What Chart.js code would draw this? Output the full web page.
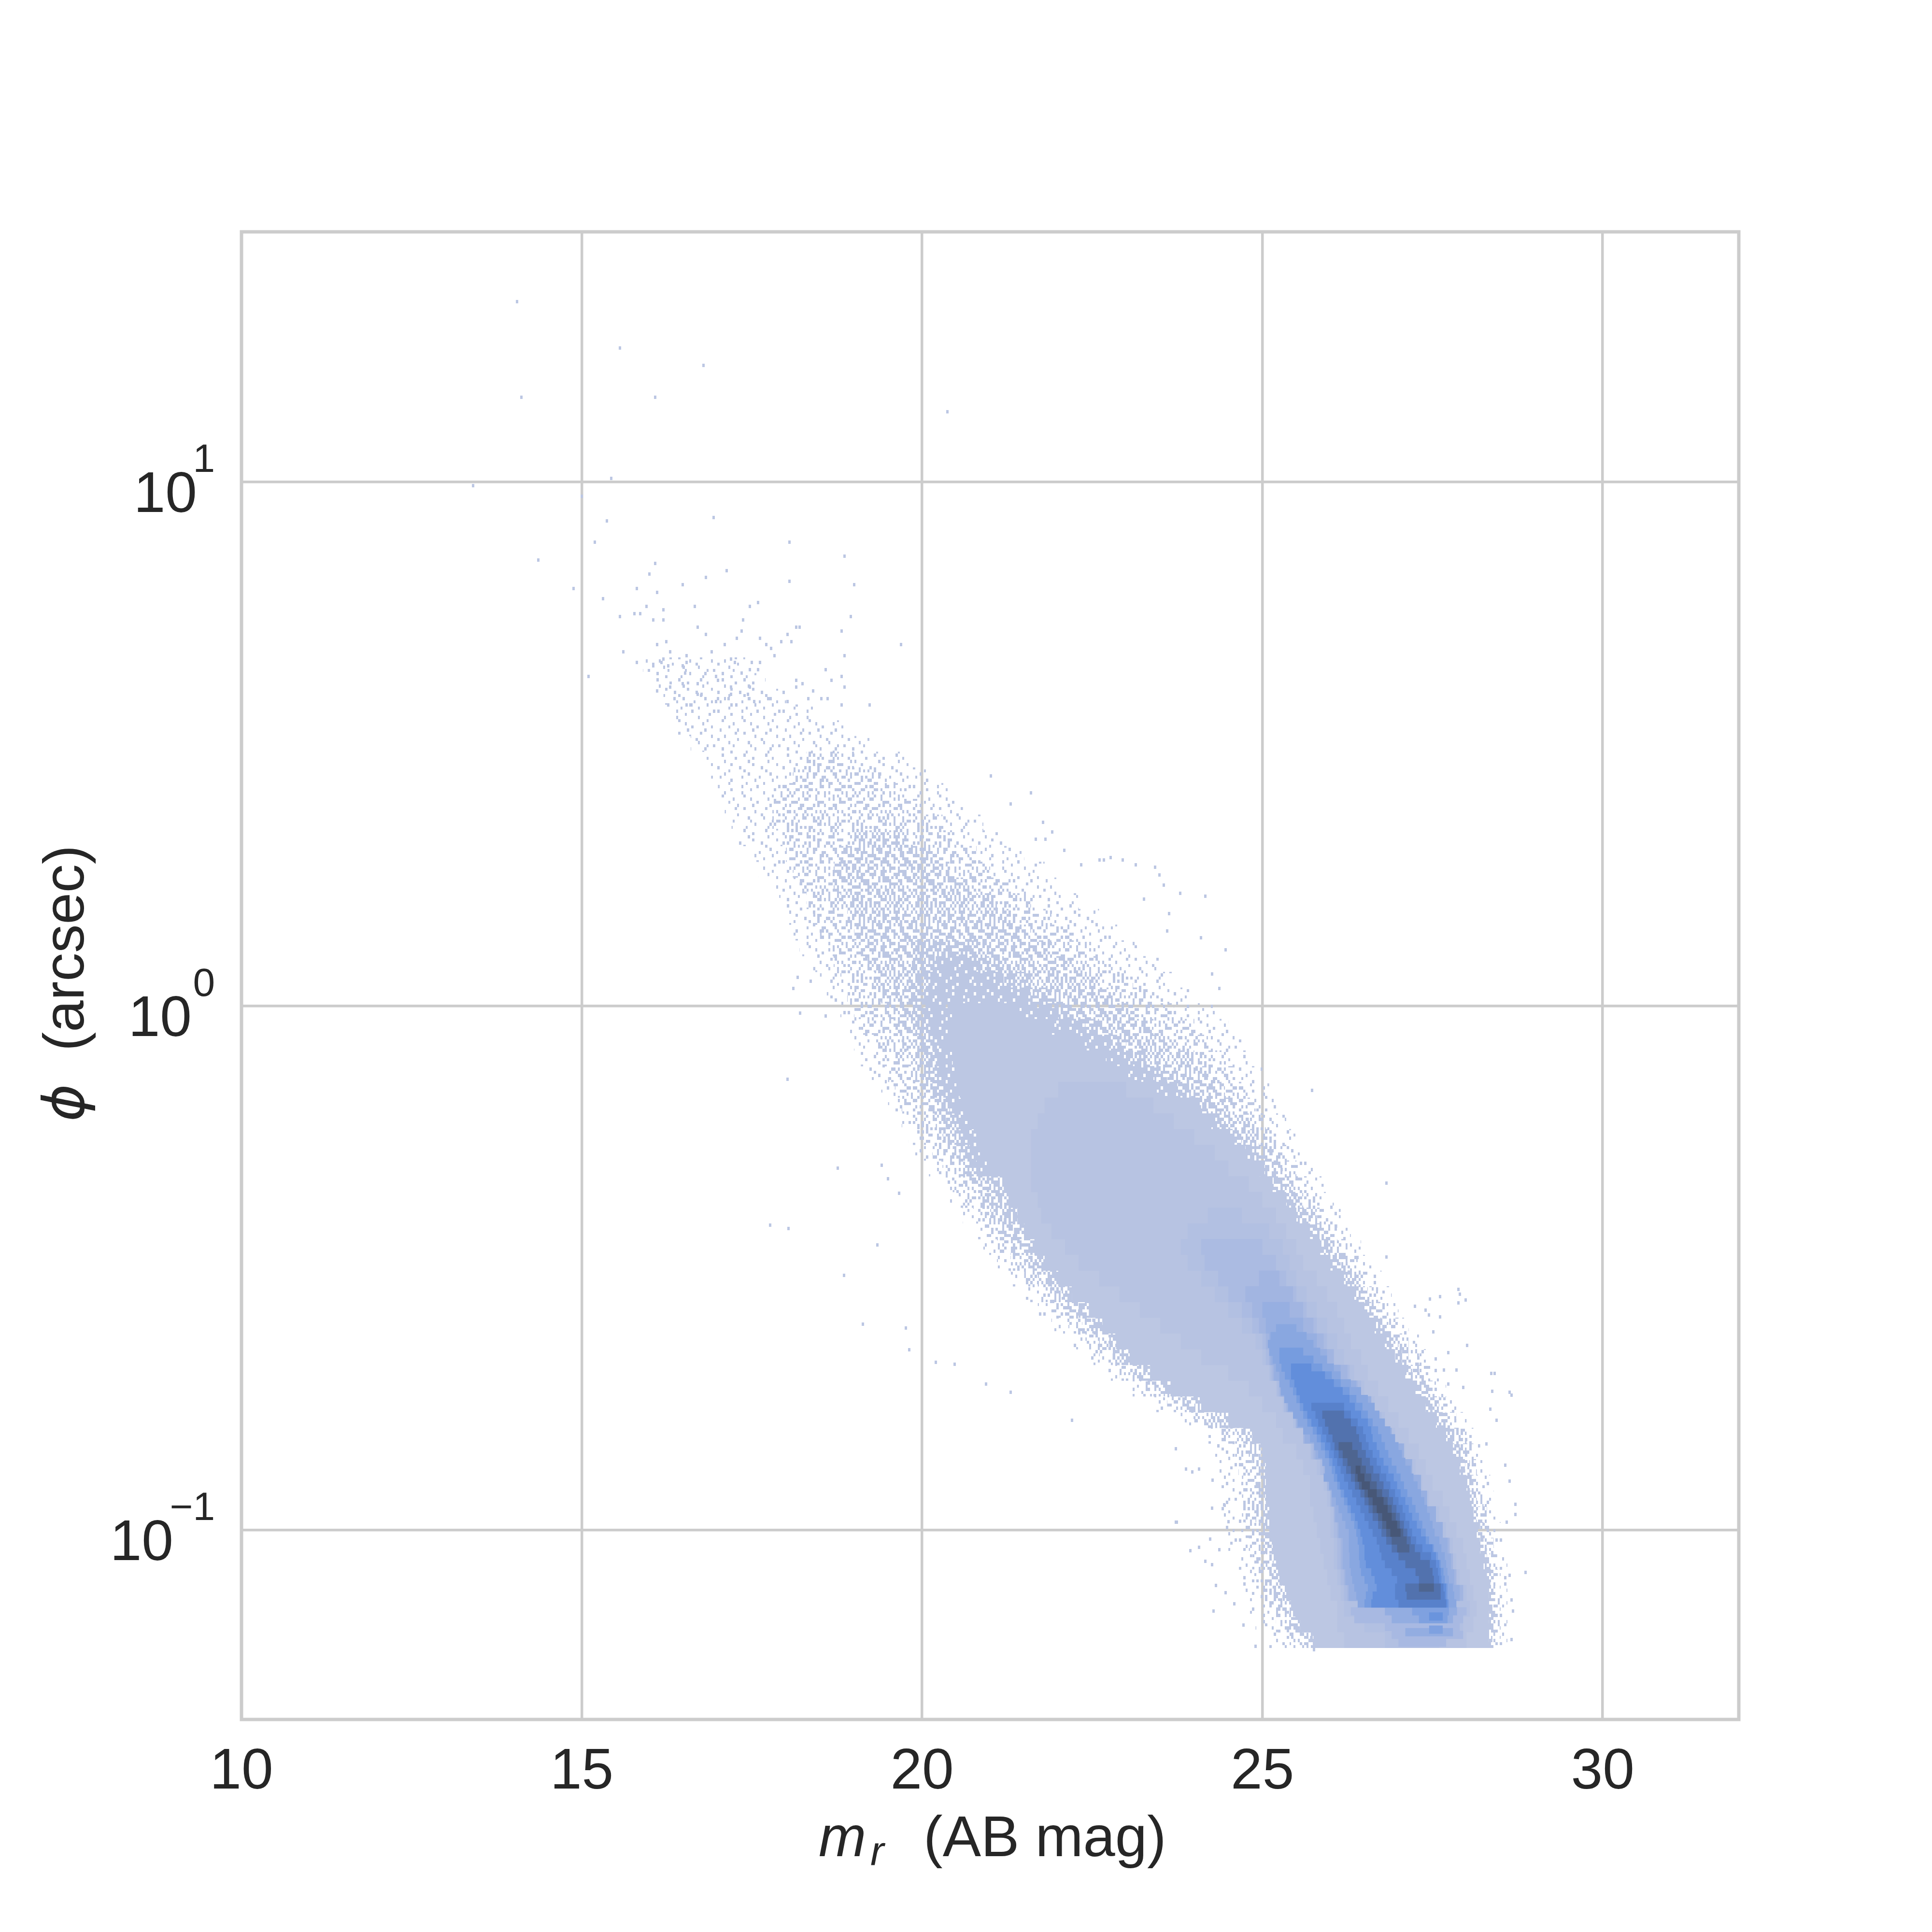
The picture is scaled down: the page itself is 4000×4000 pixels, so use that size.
<!DOCTYPE html>
<html>
<head>
<meta charset="utf-8">
<style>
    html, body { margin: 0; padding: 0; background: #ffffff; }
    canvas { display: block; }
</style>
<script src="https://cdn.jsdelivr.net/npm/chart.js@4/dist/chart.umd.min.js"></script>
</head>
<body>
<canvas id="chart" width="4000" height="4000"></canvas>
<script>
/* x axis and y axis ticks */
const xTicks = [10, 15, 20, 25, 30];
const yTicks = [0.1, 1, 10];
const yTickExponents = ["\u22121", "0", "1"];

/* coarse density bands, each row is [log10 phi, mag left, mag right] */
const bandA = [[.66,15.9,17.4],[.63,16.0,17.7],[.60,16.2,18.0],[.57,16.3,18.4],[.54,16.4,18.9],[.51,16.6,19.3],[.48,16.8,19.8],[.45,16.9,20.1],[.42,17.0,20.4],[.39,17.1,20.6],[.36,17.2,20.9],[.33,17.3,21.2],[.30,17.5,21.5],[.27,17.6,21.8],[.24,17.8,22.0],[.21,17.9,22.3],[.18,18.0,22.6],[.15,18.1,22.9],[.12,18.2,23.2],[.09,18.4,23.5],[.06,18.5,23.7],[.03,18.6,24.0],[0,18.8,24.3],[-.03,18.9,24.5],[-.06,19.0,24.7],[-.09,19.1,24.8],[-.12,19.2,25.0],[-.15,19.4,25.1],[-.18,19.5,25.2],[-.21,19.7,25.35],[-.24,19.8,25.5],[-.27,19.9,25.6],[-.30,20.1,25.75],[-.33,20.3,25.9],[-.36,20.4,26.05],[-.39,20.6,26.15],[-.42,20.8,26.3],[-.45,20.9,26.45],[-.48,21.1,26.6],[-.51,21.3,26.75],[-.54,21.5,26.9],[-.57,21.7,27.0],[-.60,21.9,27.15],[-.63,22.2,27.3],[-.66,22.4,27.45],[-.69,22.7,27.6],[-.72,23.0,27.7],[-.75,23.4,27.85],[-.78,23.8,28.0],[-.81,24.2,28.1],[-.84,24.3,28.2],[-.87,24.35,28.3],[-.90,24.4,28.35],[-.93,24.4,28.4],[-.96,24.4,28.45],[-.99,24.45,28.5],[-1.02,24.5,28.55],[-1.05,24.6,28.6],[-1.08,24.65,28.6],[-1.11,24.7,28.6],[-1.14,24.8,28.6],[-1.17,24.9,28.6],[-1.20,25.1,28.6]];
const bandB = [[.48,18.3,19.0],[.45,18.1,19.4],[.42,17.9,19.7],[.39,17.8,20.0],[.36,17.8,20.3],[.33,17.9,20.5],[.30,18.0,20.8],[.27,18.1,21.0],[.24,18.2,21.3],[.21,18.3,21.6],[.18,18.4,21.9],[.15,18.5,22.2],[.12,18.6,22.5],[.09,18.7,22.8],[.06,18.8,23.1],[.03,18.9,23.4],[0,19.0,23.7],[-.03,19.1,24.0],[-.06,19.3,24.2],[-.09,19.4,24.4],[-.12,19.5,24.6],[-.15,19.6,24.75],[-.18,19.7,24.9],[-.21,19.85,25.05],[-.24,20.0,25.2],[-.27,20.15,25.35],[-.30,20.3,25.5],[-.33,20.45,25.65],[-.36,20.6,25.8],[-.39,20.75,25.95],[-.42,20.95,26.1],[-.45,21.1,26.25],[-.48,21.3,26.4],[-.51,21.5,26.55],[-.54,21.7,26.7],[-.57,21.9,26.85],[-.60,22.15,27.0],[-.63,22.4,27.15],[-.66,22.6,27.3],[-.69,22.9,27.45],[-.72,23.2,27.55],[-.75,23.6,27.7],[-.78,24.0,27.85],[-.81,24.4,28.0],[-.84,24.6,28.1],[-.87,24.65,28.15],[-.90,24.7,28.2],[-.93,24.7,28.25],[-.96,24.7,28.3],[-.99,24.75,28.35],[-1.02,24.8,28.4],[-1.05,24.85,28.45],[-1.08,24.9,28.5],[-1.11,25.0,28.5],[-1.14,25.1,28.5],[-1.17,25.2,28.5],[-1.20,25.4,28.5]];
const bandC = [[.33,19.0,19.8],[.30,18.8,20.2],[.27,18.7,20.4],[.24,18.7,20.8],[.21,18.8,21.1],[.18,18.9,21.3],[.15,19.0,21.6],[.12,19.1,21.9],[.09,19.2,22.2],[.06,19.3,22.5],[.03,19.4,22.8],[0,19.5,23.1],[-.03,19.6,23.4],[-.06,19.7,23.7],[-.09,19.8,24.0],[-.12,19.9,24.2],[-.15,20.0,24.45],[-.18,20.1,24.6],[-.21,20.2,24.8],[-.24,20.3,24.95],[-.27,20.45,25.15],[-.30,20.55,25.3],[-.33,20.7,25.45],[-.36,20.85,25.6],[-.39,21.0,25.8],[-.42,21.15,25.95],[-.45,21.3,26.1],[-.48,21.5,26.25],[-.51,21.7,26.4],[-.54,21.9,26.55],[-.57,22.1,26.7],[-.60,22.35,26.85],[-.63,22.6,27.0],[-.66,22.8,27.15],[-.69,23.1,27.3],[-.72,23.4,27.45],[-.75,23.8,27.6],[-.78,24.2,27.7],[-.81,24.6,27.9],[-.84,24.8,28.0],[-.87,24.85,28.05],[-.90,24.9,28.1],[-.93,24.9,28.15],[-.96,24.9,28.2],[-.99,24.95,28.25],[-1.02,25.0,28.3],[-1.05,25.05,28.35],[-1.08,25.1,28.4],[-1.11,25.15,28.42],[-1.14,25.25,28.42],[-1.17,25.35,28.42],[-1.20,25.55,28.42]];
const bandD = [[.12,19.9,20.8],[.09,19.85,21.2],[.06,19.8,21.6],[.03,19.8,21.9],[0,19.85,22.2],[-.03,19.9,22.6],[-.06,19.95,23.0],[-.09,20.0,23.3],[-.12,20.05,23.6],[-.15,20.15,23.95],[-.18,20.25,24.2],[-.21,20.35,24.45],[-.24,20.45,24.7],[-.27,20.55,24.95],[-.30,20.65,25.1],[-.33,20.95,25.3],[-.36,21.05,25.5],[-.39,21.2,25.65],[-.42,21.35,25.85],[-.45,21.5,26.0],[-.48,21.65,26.15],[-.51,21.85,26.3],[-.54,22.05,26.45],[-.57,22.3,26.6],[-.60,22.5,26.75],[-.63,22.75,26.9],[-.66,22.95,27.05],[-.69,23.25,27.2],[-.72,23.55,27.35],[-.75,24.0,27.5],[-.78,24.4,27.65],[-.81,24.8,27.8],[-.84,24.95,27.9],[-.87,25.0,27.98],[-.90,25.0,28.05],[-.93,25.02,28.1],[-.96,25.05,28.15],[-.99,25.05,28.2],[-1.02,25.1,28.25],[-1.05,25.15,28.3],[-1.08,25.2,28.35],[-1.11,25.3,28.38],[-1.14,25.4,28.38],[-1.17,25.5,28.38],[-1.20,25.7,28.38]];
const bandD2 = [[.09,20.2,20.8],[.06,20.1,21.2],[.03,20.05,21.6],[0,20.05,22.0],[-.03,20.1,22.4],[-.06,20.15,22.75],[-.09,20.2,23.1],[-.12,20.25,23.4],[-.15,20.3,23.75],[-.18,20.4,24.1],[-.21,20.5,24.35],[-.24,20.6,24.6],[-.27,20.7,24.85],[-.30,20.8,25.03]];
const bandE = [[0,20.45,21.4],[-.03,20.4,21.9],[-.06,20.4,22.3],[-.09,20.45,22.7],[-.12,20.5,23.0],[-.15,20.55,23.45],[-.18,20.6,24.0],[-.21,20.7,24.25],[-.24,20.8,24.5],[-.27,20.85,24.75],[-.30,20.95,24.95],[-.33,21.2,25.15],[-.36,21.3,25.35],[-.39,21.4,25.5],[-.42,21.5,25.7],[-.45,21.65,25.85],[-.48,21.8,26.0],[-.51,22.0,26.2],[-.54,22.2,26.35],[-.57,22.45,26.5],[-.60,22.65,26.65],[-.63,22.85,26.8],[-.66,23.05,26.95],[-.69,23.35,27.1],[-.72,23.65,27.25],[-.75,24.1,27.4],[-.78,24.5,27.55],[-.81,24.85,27.7],[-.84,25.0,27.8],[-.87,25.05,27.9],[-.90,25.05,28.0],[-.93,25.05,28.05],[-.96,25.1,28.1],[-.99,25.1,28.15],[-1.02,25.15,28.2],[-1.05,25.2,28.25],[-1.08,25.25,28.3],[-1.11,25.35,28.33],[-1.14,25.45,28.33],[-1.17,25.55,28.33],[-1.20,25.75,28.33]];
const bandF = [[-.15,22.0,23.0],[-.18,21.8,23.4],[-.21,21.7,23.7],[-.24,21.6,24.0],[-.27,21.6,24.3],[-.30,21.6,24.5],[-.33,21.6,24.8],[-.36,21.7,25.0],[-.39,21.75,25.2],[-.42,21.9,25.35],[-.45,22.1,25.5],[-.48,22.3,25.6],[-.51,22.6,25.8],[-.54,22.9,25.95],[-.57,23.2,26.1],[-.60,23.5,26.2],[-.63,23.8,26.3],[-.66,24.1,26.45],[-.69,24.5,26.55],[-.72,24.8,26.7],[-.75,25.0,26.85],[-.78,25.2,27.0],[-.81,25.3,27.15],[-.84,25.5,27.3],[-.87,25.6,27.4],[-.90,25.7,27.5],[-.93,25.7,27.65],[-.96,25.75,27.75],[-.99,25.8,27.85],[-1.02,25.85,27.95],[-1.05,25.9,28.0],[-1.08,25.95,28.05],[-1.11,26.0,28.1],[-1.14,26.1,28.15],[-1.17,26.1,28.1],[-1.20,26.2,28.0]];
const bandG = [[-.39,24.2,24.7],[-.42,23.9,25.1],[-.45,23.8,25.3],[-.48,23.9,25.4],[-.51,24.1,25.5],[-.54,24.3,25.65],[-.57,24.5,25.8],[-.60,24.7,25.95],[-.63,24.9,26.1],[-.66,25.0,26.2],[-.69,25.1,26.35],[-.72,25.2,26.5],[-.75,25.3,26.65],[-.78,25.45,26.8],[-.81,25.6,26.95],[-.84,25.7,27.1],[-.87,25.8,27.25],[-.90,25.9,27.35],[-.93,25.95,27.45],[-.96,26.0,27.6],[-.99,26.0,27.7],[-1.02,26.05,27.8],[-1.05,26.05,27.85],[-1.08,26.1,27.9],[-1.11,26.15,28.0],[-1.14,26.2,28.05],[-1.17,26.5,27.95],[-1.20,26.8,27.6]];
const bandG2 = [[-.45,24.1,25.0],[-.48,24.15,25.2],[-.51,24.35,25.35],[-.54,24.5,25.5],[-.57,24.7,25.65],[-.60,24.85,25.8],[-.63,25.0,25.95],[-.66,25.05,26.05],[-.69,25.12,26.28],[-.72,25.22,26.45],[-.75,25.32,26.6],[-.78,25.48,26.75],[-.81,25.62,26.9],[-.84,25.72,27.05],[-.87,25.85,27.2],[-.90,25.95,27.3],[-.93,26.0,27.42],[-.96,26.05,27.55],[-.99,26.05,27.65],[-1.02,26.1,27.75],[-1.05,26.1,27.8],[-1.08,26.15,27.85],[-1.11,26.2,27.95]];
const bandH = [[-.51,24.95,25.25],[-.54,24.75,25.45],[-.57,24.85,25.6],[-.60,24.95,25.75],[-.63,25.05,25.9],[-.66,25.1,26.05],[-.69,25.15,26.25],[-.72,25.25,26.4],[-.75,25.35,26.55],[-.78,25.5,26.7],[-.81,25.6,26.85],[-.84,25.75,27.0],[-.87,25.9,27.15],[-.90,25.95,27.3],[-.93,26.0,27.4],[-.96,26.05,27.55],[-.99,26.1,27.65],[-1.02,26.15,27.75],[-1.05,26.15,27.8],[-1.08,26.2,27.85],[-1.11,26.25,27.95]];
const bandH2 = [[-.57,25.0,25.4],[-.60,25.05,25.6],[-.63,25.1,25.8],[-.66,25.12,25.95],[-.69,25.17,26.15],[-.72,25.27,26.38],[-.75,25.37,26.6],[-.78,25.5,26.72],[-.81,25.62,26.9],[-.84,25.78,27.08],[-.87,25.92,27.2],[-.90,25.98,27.33],[-.93,26.02,27.42],[-.96,26.07,27.55],[-.99,26.12,27.65],[-1.02,26.18,27.72],[-1.05,26.18,27.77],[-1.08,26.22,27.82],[-1.11,26.27,27.9]];

/* fine bands for the dense ridge and the stripes under it, same row layout */
const ridgeI = [[-.615,25.2,25.5],[-.63,25.12,25.65],[-.645,25.08,25.75],[-.66,25.1,25.85],[-.675,25.15,25.95],[-.69,25.2,26.05],[-.705,25.25,26.15],[-.72,25.25,26.3],[-.735,25.27,26.45],[-.75,25.32,26.55],[-.765,25.38,26.65],[-.78,25.45,26.72],[-.795,25.52,26.8],[-.81,25.6,26.88],[-.825,25.7,26.95],[-.84,25.76,27.0],[-.855,25.82,27.05],[-.87,25.88,27.1],[-.885,25.92,27.18],[-.90,25.9,27.22],[-.915,25.98,27.28],[-.93,26.02,27.33],[-.945,26.08,27.38],[-.96,26.12,27.42],[-.975,26.17,27.46],[-.99,26.22,27.5],[-1.005,26.27,27.53],[-1.02,26.27,27.6],[-1.035,26.27,27.63],[-1.05,26.28,27.68],[-1.065,26.28,27.7],[-1.08,26.3,27.72],[-1.095,26.32,27.74],[-1.11,26.35,27.8],[-1.125,26.38,27.82],[-1.14,26.4,27.85]];
const ridgeJ = [[-.66,25.25,25.6],[-.675,25.25,25.75],[-.69,25.28,25.88],[-.705,25.33,26.02],[-.72,25.4,26.15],[-.735,25.45,26.28],[-.75,25.5,26.38],[-.765,25.55,26.47],[-.78,25.6,26.55],[-.795,25.66,26.62],[-.81,25.74,26.7],[-.825,25.8,26.75],[-.84,25.86,26.8],[-.855,25.92,26.85],[-.87,25.98,26.9],[-.885,26.02,26.97],[-.90,26.05,27.03],[-.915,26.1,27.08],[-.93,26.15,27.13],[-.945,26.2,27.2],[-.96,26.25,27.25],[-.975,26.3,27.3],[-.99,26.35,27.35],[-1.005,26.38,27.4],[-1.02,26.4,27.45],[-1.035,26.42,27.52],[-1.05,26.42,27.58],[-1.065,26.43,27.62],[-1.08,26.45,27.66],[-1.095,26.5,27.68],[-1.11,26.55,27.72],[-1.125,26.52,27.72],[-1.14,26.5,27.74]];
const ridgeK = [[-.69,25.42,25.72],[-.705,25.42,25.92],[-.72,25.47,26.05],[-.735,25.5,26.18],[-.75,25.55,26.28],[-.765,25.6,26.36],[-.78,25.66,26.45],[-.795,25.72,26.55],[-.81,25.8,26.6],[-.825,25.86,26.62],[-.84,25.92,26.68],[-.855,25.98,26.72],[-.87,26.03,26.78],[-.885,26.07,26.85],[-.90,26.1,26.93],[-.915,26.14,26.98],[-.93,26.2,27.03],[-.945,26.25,27.1],[-.96,26.3,27.15],[-.975,26.36,27.2],[-.99,26.4,27.27],[-1.005,26.44,27.33],[-1.02,26.47,27.4],[-1.035,26.5,27.5],[-1.05,26.5,27.55],[-1.065,26.52,27.6],[-1.08,26.6,27.62],[-1.095,26.65,27.63],[-1.11,26.68,27.7],[-1.125,26.62,27.7],[-1.14,26.6,27.72]];
const ridgeL = [[-.765,25.72,26.2],[-.78,25.78,26.3],[-.795,25.82,26.4],[-.81,25.88,26.48],[-.825,25.94,26.52],[-.84,26.0,26.56],[-.855,26.05,26.62],[-.87,26.1,26.68],[-.885,26.15,26.74],[-.90,26.2,26.82],[-.915,26.26,26.88],[-.93,26.32,26.95],[-.945,26.38,27.0],[-.96,26.44,27.06],[-.975,26.5,27.1],[-.99,26.56,27.16],[-1.005,26.62,27.2],[-1.02,26.68,27.26],[-1.035,26.72,27.35],[-1.05,26.75,27.48],[-1.065,26.8,27.55],[-1.08,26.9,27.58],[-1.095,26.98,27.6],[-1.11,26.95,27.66],[-1.125,26.95,27.68],[-1.14,27.0,27.7]];
const ridgeM = [[-.78,25.88,26.2],[-.795,25.92,26.3],[-.81,25.97,26.38],[-.825,26.03,26.42],[-.84,26.06,26.46],[-.855,26.12,26.52],[-.87,26.18,26.58],[-.885,26.23,26.63],[-.90,26.3,26.72],[-.915,26.36,26.78],[-.93,26.44,26.86],[-.945,26.5,26.92],[-.96,26.56,26.97],[-.975,26.62,27.02],[-.99,26.7,27.08],[-1.005,26.75,27.13],[-1.02,26.82,27.18],[-1.035,26.9,27.24],[-1.05,27.0,27.32],[-1.065,27.1,27.46],[-1.08,27.25,27.5],[-1.095,27.3,27.52],[-1.11,27.1,27.62],[-1.125,27.12,27.62]];
const ridgeN = [[-.84,26.12,26.32],[-.855,26.18,26.4],[-.87,26.25,26.46],[-.885,26.3,26.52],[-.90,26.36,26.6],[-.915,26.42,26.68],[-.93,26.5,26.76],[-.945,26.56,26.84],[-.96,26.62,26.9],[-.975,26.7,26.96],[-.99,26.76,27.02],[-1.005,26.82,27.07],[-1.02,26.9,27.12],[-1.035,26.98,27.16],[-1.11,27.3,27.52]];
const ridgeO = [[-.885,26.37,26.44],[-.90,26.4,26.5],[-.915,26.46,26.58],[-.93,26.55,26.68],[-.945,26.62,26.78],[-.96,26.68,26.84],[-.975,26.76,26.9],[-.99,26.82,26.98],[-1.005,26.88,27.03]];
const stripeG = [[-1.155,26.3,28.0],[-1.17,26.35,27.95],[-1.185,26.8,27.9],[-1.20,26.9,27.95],[-1.215,27.0,27.7]];
const stripeH = [[-1.155,26.8,27.86],[-1.17,26.9,27.8],[-1.195,27.1,27.8]];
const stripeI = [[-1.155,27.2,27.74],[-1.17,27.3,27.72],[-1.19,27.45,27.65]];
const stripeJ = [[-1.165,27.45,27.65]];

/* single cells outside the main cloud, [mag, phi] */
const strayCells = [
    [14.05,22.1],[15.56,18.0],[16.79,16.7],[14.11,14.5],[16.08,14.5],[20.37,13.6],[15.43,10.15],[13.40,9.83],[15.0,9.38],[16.94,8.55],
    [15.37,8.42],[15.19,7.67],[18.05,7.67],[18.86,7.22],[14.36,7.09],[16.08,6.99],[17.13,6.77],[15.99,6.67],[16.82,6.57],[18.05,6.46],
    [16.48,6.37],[19.0,6.37],[14.88,6.26],[15.81,6.26],[16.11,6.16],[15.31,5.98],[17.59,5.89],[15.95,5.79],[16.66,5.79],[17.47,5.79],
    [16.2,5.70],[15.77,5.61],[15.86,5.61],[15.56,5.53],[18.95,5.53],[16.05,5.45],[16.2,5.45],[17.37,5.45],[16.7,5.28],[18.15,5.28],
    [18.2,5.28],[17.35,5.19],[18.82,5.19],[16.82,5.12],[18.02,5.12],[17.28,5.03],[17.62,5.03],[16.24,4.96],[17.93,4.96],[18.08,4.96],
    [16.11,4.89],[17.1,4.89],[17.71,4.89],[19.69,4.89],[17.78,4.81],[15.61,4.74],[16.3,4.74],[16.91,4.74],[16.54,4.66],[17.83,4.66],
    [18.86,4.66],[16.2,4.59],[17.19,4.59],[15.81,4.52],[16.17,4.52],[16.54,4.52],[17.25,4.52],[17.5,4.52],[17.62,4.52],[16.05,4.46],
    [16.27,4.46],[16.48,4.46],[17.47,4.38],[17.59,4.38],[18.58,4.38],[16.52,4.32],[17.35,4.32],[15.1,4.25],[16.97,4.25],[18.82,4.25],
    [18.15,4.18],[18.67,4.18],[17.0,4.18],[16.48,4.12],[16.7,4.12],[18.24,4.12],[16.3,4.06],[17.19,4.06],[17.47,4.06],[18.15,4.06],
    [18.86,4.06],[16.11,3.99],[18.4,3.99],[16.7,3.93],[16.76,3.93],[17.19,3.93],[17.44,3.93],[16.36,3.86],[17.0,3.86],[17.16,3.86],
    [17.46,3.86],[17.74,3.86],[18.33,3.86],[18.52,3.86],[18.61,3.86],[16.97,3.81],[17.53,3.81],[18.02,3.81],[16.27,3.75],[16.54,3.75],
    [16.61,3.75],[17.27,3.75],[18.82,3.75],[19.23,3.75],
    [21.01,2.75],[21.6,2.55],[21.3,2.43],[21.78,2.24],[21.91,2.15],[22.09,1.98],[21.67,2.08],[21.81,2.08],[22.77,1.92],[23.14,1.86],
    [23.42,1.84],[23.79,1.64],[24.16,1.62],[24.46,1.28],[24.37,1.08],[24.1,1.35],[23.49,1.78],[22.61,1.90],[22.67,1.90],[22.95,1.90],
    [22.34,1.86],[23.55,1.70],[23.26,1.60],[23.63,1.50],[23.6,1.39],[24.26,1.15],
    [18.02,.724],[18.76,.49],[19.41,.497],[19.5,.468],[19.66,.439],[18.21,.97],[18.58,.957],[18.11,1.08],[18.17,1.135],[18.36,1.115],
    [17.77,.382],[18.04,.376],[18.85,.306],[19.13,.247],[19.34,.35],[19.76,.243],[19.81,.221],[20.2,.209],[20.48,.207],[20.94,.19],
    [21.3,.183],[22.2,.162],[23.74,.1035],[26.82,.459],[25.73,.69],[26.82,.332],[27.9,.282],[27.45,.257],[28.36,.199],[28.63,.183],
    [27.88,.288],[27.46,.276],[27.61,.279],[27.99,.275],[27.88,.271],[27.24,.267],[27.4,.263],[27.61,.255],[27.51,.239],[28.01,.225],
    [27.73,.218],[27.55,.212],[27.85,.202],[27.67,.202],[28.41,.199],[27.73,.19],[28.38,.184],[27.95,.187],[28.66,.181],[28.35,.170],
    [28.44,.162],[28.29,.146],[28.57,.133],[28.63,.124],[28.72,.112],[28.72,.107],[28.59,.1035],[28.87,.083],[28.63,.082],[28.66,.0618],
    [28.68,.0701],[28.66,.0735],[23.73,.143],[23.73,.1035],[23.94,.0914],[24.07,.0926],[24.16,.0872],[24.28,.0701],[24.72,.0659],[24.9,.06],
    [25.76,.0591],[24.26,.11],[23.97,.129],[23.88,.1306],[24.07,.1306],[24.27,.1245],[24.44,.1117],[24.5,.1037],[24.23,.096],[24.37,.0918],
    [24.26,.0859],[24.32,.0784],[24.46,.076],[24.59,.0723]
];

const coarseBands = [bandA, bandB, bandC, bandD, bandD2, bandE, bandF, bandG, bandG2, bandH, bandH2];
const fineBands = [stripeG, stripeH, stripeI, stripeJ, ridgeI, ridgeJ, ridgeK, ridgeL, ridgeM, ridgeN, ridgeO];
const rowShift = 0.01;

const cellColor = "#bcc7e3";
const textColor = "#262626";
const lineColor = "#cccccc";
const fontName = "'Liberation Sans', Arial, sans-serif";

/* stipple tile for the sparse edge of the cloud: a digit below the band's limit means a filled cell */
const stippleTile = [
    "730518294637081952746308159264",
    "296384710592846307159482607395",
    "518027463981250746938120574863",
    "864193025748631902485736912047",
    "071652938406175823960241738596",
    "349870516293084617325809461372",
    "625013847962530198746352098741",
    "908746231580972463108579236014",
    "143598076214368950271486305987",
    "586210493785104632897015742368",
    "027934681520796341058263974105",
    "761485029367218059436798120543",
    "394062857140635928714053869271",
    "850713964258097143625981403762",
    "216849305712486035978240631598",
    "473520198674953812064739582016",
    "908267341085762904318652097434",
    "135694820371026589743106285967",
    "682031759428397160825493716085",
    "049758163092514873260981437526",
    "517340986215840627193058624793",
    "293816407569372081546273905108",
    "760425198337965410829164072385",
    "841693052718203569473820516947"
];
const sparseLimits = [1, 3, 5, 7, 9];

function stipple(limit) {
    let cellW = 4.5, cellH = 6.5;
    let tile = document.createElement("canvas");
    tile.width = stippleTile[0].length * cellW;
    tile.height = stippleTile.length * cellH;
    let c = tile.getContext("2d");
    c.fillStyle = cellColor;
    stippleTile.forEach((row, j) => {
        [...row].forEach((digit, i) => {
            if (Number(digit) < limit) {
                let x0 = Math.round(i * cellW), x1 = Math.round((i + 1) * cellW);
                let y0 = Math.round(j * cellH), y1 = Math.round((j + 1) * cellH);
                c.fillRect(x0, y0, x1 - x0, y1 - y0);
            }
        });
    });
    return document.createElement("canvas").getContext("2d").createPattern(tile, "repeat");
}

function strayMark() {
    let mark = document.createElement("canvas");
    mark.width = 5;
    mark.height = 7;
    let c = mark.getContext("2d");
    c.fillStyle = cellColor;
    c.fillRect(0, 0, 5, 7);
    return mark;
}

const coarseColors = sparseLimits.map(stipple).concat([cellColor, "#b7c3e2", "#b2c0e2", "#abbbe2", "#a2b5e1", "#97afe1"]);
const fineColors = ["#a8b9e2", "#93ade1", "#7fa1e0", "#6a94dd", "#89a7e0", "#769cdf", "#628edb", "#5881cb", "#5272ae", "#4e6590", "#475777"];

function bandPoints(rows, shift) {
    let points = [];
    rows.forEach(r => {
        let y = Math.pow(10, r[0] - shift);
        points.push({ x: r[1], y: y }, { x: r[2], y: y }, { x: NaN, y: NaN });
    });
    return points;
}

function bandDataset(rows, color, width, shift, order) {
    return {
        data: bandPoints(rows, shift),
        showLine: true,
        spanGaps: false,
        borderColor: color,
        borderWidth: width,
        borderCapStyle: "butt",
        pointRadius: 0,
        order: order
    };
}

let datasets = [];
coarseBands.forEach((rows, i) => {
    datasets.push(bandDataset(rows, coarseColors[i], 33, rowShift, 100 - i));
});
fineBands.forEach((rows, i) => {
    datasets.push(bandDataset(rows, fineColors[i], 17, 0, 50 - i));
});

datasets.push({
    data: strayCells.map(c => ({ x: c[0], y: c[1] })),
    pointStyle: strayMark(),
    backgroundColor: cellColor,
    borderWidth: 0,
    order: 200
});

/* spines, exponent tick labels and the two axis titles */
const decorations = {
    id: "decorations",
    afterDraw(chart) {
        const ctx = chart.ctx;
        const area = chart.chartArea;
        const yScale = chart.scales.y;
        const mainRight = [359, 397, 408];

        ctx.save();
        ctx.strokeStyle = lineColor;
        ctx.lineWidth = 7;
        ctx.strokeRect(area.left, area.top, area.right - area.left, area.bottom - area.top);

        ctx.fillStyle = textColor;
        ctx.textBaseline = "alphabetic";

        yTicks.forEach((tick, i) => {
            let y = yScale.getPixelForValue(tick) + 62;
            ctx.font = "118px " + fontName;
            ctx.textAlign = "right";
            ctx.fillText("10", mainRight[i], y);
            ctx.font = "82px " + fontName;
            ctx.fillText(yTickExponents[i], 445, y - 83);
        });

        ctx.textAlign = "left";
        ctx.font = "italic 118px " + fontName;
        ctx.fillText("m", 1695, 3843);
        ctx.font = "italic 85px " + fontName;
        ctx.fillText("r", 1802, 3862);
        ctx.font = "119px " + fontName;
        ctx.fillText("(AB mag)", 1912, 3843);

        ctx.translate(173, 0);
        ctx.rotate(-Math.PI / 2);
        ctx.font = "italic 118px 'DejaVu Sans'";
        ctx.fillText("\u03d5", -2322, 0);
        ctx.font = "118px " + fontName;
        ctx.fillText("(arcsec)", -2176, 0);
        ctx.restore();
    }
};

new Chart(document.getElementById("chart"), {
    type: "scatter",
    data: { datasets: datasets },
    plugins: [decorations],
    options: {
        responsive: false,
        animation: false,
        devicePixelRatio: 1,
        layout: { padding: { top: 480, right: 400 } },
        plugins: { legend: { display: false }, tooltip: { enabled: false } },
        scales: {
            x: {
                type: "linear",
                min: 10,
                max: 32,
                afterBuildTicks: scale => { scale.ticks = xTicks.map(v => ({ value: v })); },
                afterFit: scale => { scale.height = 440; },
                border: { display: false },
                grid: { color: lineColor, lineWidth: 5.5, drawTicks: false },
                ticks: {
                    color: textColor,
                    font: { family: fontName, size: 118 },
                    padding: 40,
                    maxRotation: 0
                }
            },
            y: {
                type: "logarithmic",
                min: 0.0435,
                max: 30,
                afterBuildTicks: scale => { scale.ticks = yTicks.map(v => ({ value: v, major: true })); },
                afterFit: scale => { scale.width = 500; },
                border: { display: false },
                grid: { color: lineColor, lineWidth: 5.5, drawTicks: false },
                ticks: { display: false }
            }
        }
    }
});
</script>
</body>
</html>
